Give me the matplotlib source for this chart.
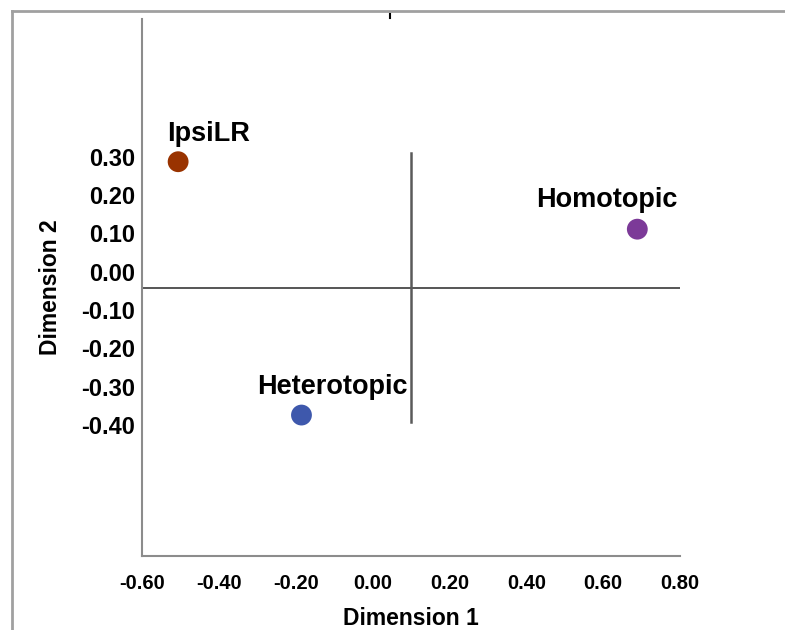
import matplotlib
matplotlib.use("Agg")
import matplotlib.pyplot as plt
from matplotlib.lines import Line2D

# Stimulus-condition coordinates in the two-dimensional solution
labels = ["IpsiLR", "Homotopic", "Heterotopic"]
dim1 = [-0.506, 0.689, -0.185]
dim2 = [0.287, 0.111, -0.374]
colors = ["#993300", "#7C3A98", "#3E58AC"]

# Reference lines through the configuration
ref_x = 0.100
ref_x_span = (-0.392, 0.310)
ref_y = -0.042

x_ticks = [-0.60, -0.40, -0.20, 0.00, 0.20, 0.40, 0.60, 0.80]
y_ticks = [0.30, 0.20, 0.10, 0.00, -0.10, -0.20, -0.30, -0.40]

plt.rcParams["font.family"] = ["Liberation Sans", "DejaVu Sans"]

fig = plt.figure(figsize=(7.85, 6.30), dpi=100)
ax = fig.add_axes([0.1809, 0.1179, 0.6853, 0.8527])

ax.set_xlim(-0.60, 0.80)
ax.set_ylim(-0.741, 0.6606)

# reference lines
ax.axhline(ref_y, color="#555555", lw=1.4, zorder=1)
ax.plot([ref_x, ref_x], ref_x_span, color="#5a5a5a", lw=1.8, zorder=1)

ax.scatter(dim1, dim2, s=225, c=colors, edgecolors="none", zorder=3)

# text offsets (points) for each label
offsets = [(22, 20), (-22, 21), (22, 20)]
for name, x, y, (dx, dy) in zip(labels, dim1, dim2, offsets):
    ax.annotate(name, (x, y), xytext=(dx, dy), textcoords="offset points",
                ha="center", va="center", fontsize=19.5, fontweight="bold",
                color="black", zorder=4)

ax.set_xticks(x_ticks)
ax.set_xticklabels([f"{v:.2f}" for v in x_ticks], fontweight="bold",
                   fontsize=14.5)
ax.set_yticks(y_ticks)
ax.set_yticklabels([f"{v:.2f}" for v in y_ticks], fontweight="bold", fontsize=17)
ax.tick_params(axis="x", length=0, pad=13)
ax.tick_params(axis="y", length=0, pad=5)

for side in ("top", "right"):
    ax.spines[side].set_visible(False)
for side in ("left", "bottom"):
    ax.spines[side].set_color("#8c8c8c")
    ax.spines[side].set_linewidth(1.5)

ax.set_xlabel("Dimension 1", fontsize=16.5, fontweight="bold", labelpad=10)
ax.set_ylabel("Dimension 2", fontsize=16.5, fontweight="bold", labelpad=14)

# outer frame
fig.add_artist(Line2D([12 / 785, 12 / 785], [0, 1 - 11 / 630],
                      transform=fig.transFigure, color="#a0a0a0", lw=2))
fig.add_artist(Line2D([12 / 785, 1], [1 - 11 / 630, 1 - 11 / 630],
                      transform=fig.transFigure, color="#a0a0a0", lw=2))
fig.add_artist(Line2D([390 / 785, 390 / 785], [1 - 14 / 630, 1 - 18 / 630],
                      transform=fig.transFigure, color="black", lw=1.5))

fig.savefig("out.png", dpi=100)
